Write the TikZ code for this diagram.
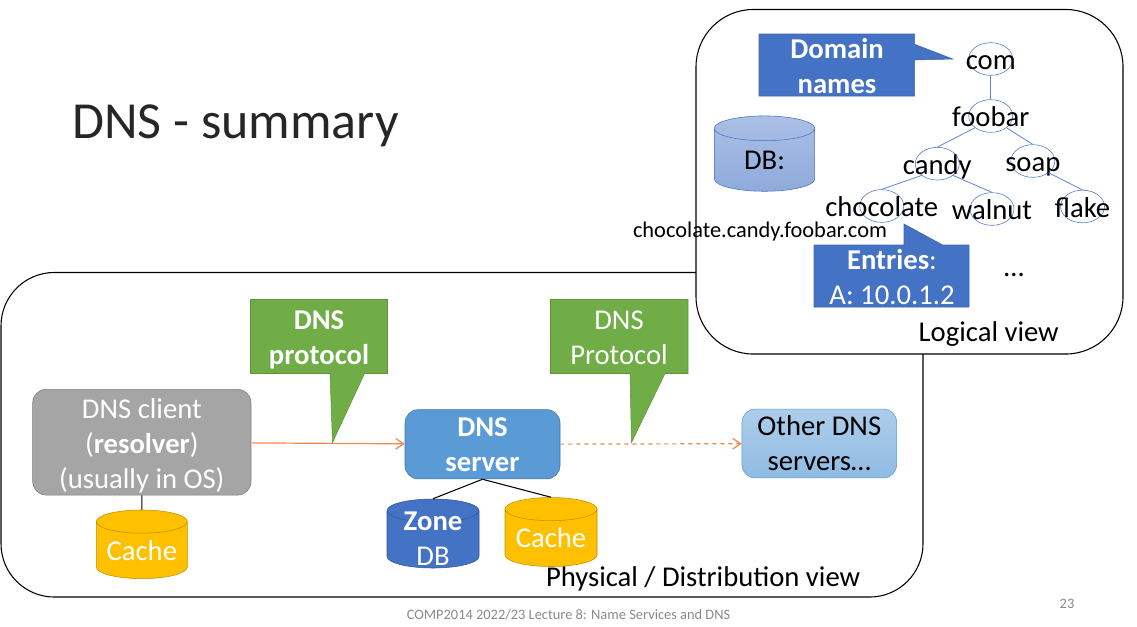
\documentclass[tikz,border=0pt]{standalone}
\usepackage{fontspec}
\setmainfont{Carlito}
\usetikzlibrary{positioning}
\usetikzlibrary{shapes.geometric}
\usetikzlibrary{arrows.meta}

\definecolor{callout green}{HTML}{70AD47}
\definecolor{callout green line}{HTML}{5F9438}
\definecolor{callout blue}{HTML}{4472C4}
\definecolor{callout blue line}{HTML}{3F66AE}
\definecolor{client gray}{HTML}{A5A5A5}
\definecolor{server blue}{HTML}{5B9BD5}
\definecolor{cache yellow}{HTML}{FFC000}
\definecolor{link orange}{HTML}{F08A4B}
\definecolor{footer gray}{HTML}{898989}

% Text wider than its ellipse must not stretch it
\newcommand{\treename}[1]{\makebox[0pt]{#1}}

\tikzset{
    % Open arrow head of the protocol links
    >={Straight Barb[length=6pt,width=8pt]},
%
    % Large rounded panels holding each view
    view box/.style={draw=black, line width=.8pt, fill=white, rounded corners=#1, inner sep=0},
%
    % Text sizes
    body text/.style={font=\fontsize{21.5}{26.3}\selectfont, align=center, inner sep=0},
    white text/.style={body text, text=white},
%
    % Rounded boxes for client and servers
    host box/.style={rectangle, rounded corners=10pt, inner sep=0, white text},
%
    % Speech bubbles, drawn as one outline
    green bubble/.style={draw=callout green line, fill=callout green},
    blue bubble/.style={draw=callout blue line, fill=callout blue},
%
    % Small disk icon, the fixed text width sets how round its ends are
    disk icon/.style={
        draw, cylinder, shape border rotate=90, shape aspect=.29, inner sep=0,
        text width=60pt, anchor=shape center, white text},
%
    % Name tree: ellipse with its text laid over it
    tree node/.style={
        draw=callout blue, ellipse, inner sep=0, minimum width=33pt, minimum height=24.5pt,
        font=\fontsize{21.5}{26.3}\selectfont, text height=16.4pt, text depth=0pt},
    tree edge/.style={draw=callout blue!85, line width=.6pt},
    wire/.style={draw=black, line width=.8pt},
    link/.style={draw=link orange, line width=.9pt, ->}}

\begin{document}
\begin{tikzpicture}[x=.75pt, y=-.75pt]
\useasboundingbox (0,0) rectangle (1137,626);

% Slide title and footer
\node[font=\fontsize{39}{46}\selectfont, text=black!85, anchor=west, inner sep=0] (title) at (72,126) {DNS - summary};
\node[font=\fontsize{10.8}{12}\selectfont, text=footer gray, inner sep=0] (footer) at (568.5,615)
    {COMP2014 2022/23 Lecture 8: Name Services and DNS};
\node[font=\fontsize{10.8}{12}\selectfont, text=footer gray, inner sep=0] (page number) at (1067,604) {23};

% The physical view, partly hidden by the logical one
\node[view box=40pt, minimum width=691.5pt, minimum height=243.4pt] (physical) at (462,434.75) {};
\node[body text, anchor=east] (physical title) at (860.5,579) {Physical / Distribution view};

\node[host box, fill=client gray, draw=client gray!75!black, minimum width=163.7pt, minimum height=79.3pt]
    (client) at (141.85,442.2) {\rule{0pt}{20pt}DNS client\\(\textbf{resolver})\\(usually in OS)};
\node[host box, fill=server blue, draw=server blue!75!black, minimum width=116.25pt, minimum height=52pt]
    (server) at (482.5,444.3) {\textbf{DNS}\\\textbf{server}};
\node[host box, top color=server blue!50, bottom color=server blue!68, draw=server blue, text=black,
    minimum width=116pt, minimum height=51.7pt]
    (other servers) at (819.3,443.5) {Other DNS\\servers…};

\node[disk icon, fill=cache yellow, draw=cache yellow!75!black, minimum width=68.25pt, minimum height=51.5pt]
    (client cache) at (141.8,544.3) {Cache};
\node[disk icon, fill=callout blue, draw=callout blue!75!black, minimum width=69pt, minimum height=51.75pt]
    (zone db) at (433,533.5) {};
\node[white text] (zone text) at (433,539) {\textbf{Zone}\\DB};
\node[disk icon, fill=cache yellow, draw=cache yellow!75!black, minimum width=69pt, minimum height=51.75pt]
    (server cache) at (551,532) {Cache};

\draw[wire] (client) -- (client cache);
\draw[wire] (server.south) -- (zone db.north);
\draw[wire] (server.south) -- (server cache.north);

\draw[link] (client) -- (server);
\draw[link, dashed] (server) -- (other servers);

% Protocol bubbles pointing at the links
\draw[green bubble] (250.5,299.5) -- (387.5,299.5) -- (387.5,373.5) -- (364.5,373.5)
    -- (332.5,442.5) -- (330,373.5) -- (250.5,373.5) -- cycle;
\node[white text] (protocol a) at (319,340) {\textbf{DNS}\\\textbf{protocol}};
\draw[green bubble] (550.5,299.5) -- (688,299.5) -- (688,373.5) -- (665,373.5)
    -- (631.5,442.5) -- (630,373.5) -- (550.5,373.5) -- cycle;
\node[white text] (protocol b) at (619,338) {DNS\\Protocol};

% The logical view on top
\node[view box=43pt, minimum width=320.25pt, minimum height=258.4pt] (logical) at (909.5,181.75) {};
\node[body text, anchor=east] (logical title) at (1059,334) {Logical view};

\node[disk icon, shape aspect=.31, text=black, draw=callout blue, top color=callout blue!45, bottom color=callout blue!60,
    minimum width=75.3pt, minimum height=56.5pt] (db) at (764.5,153.6) {DB:};

% Name tree
\node[tree node] (com) at (990.7,59) {\treename{com}};
\node[tree node] (foobar) at (990.7,116) {\treename{foobar}};
\node[tree node] (candy) at (937.3,163.7) {\treename{candy}};
\node[tree node] (soap) at (1032.8,161) {\treename{soap}};
\node[tree node] (chocolate) at (881.7,206) {\treename{chocolate}};
\node[tree node] (walnut) at (992,209) {\treename{walnut}};
\node[tree node] (flake) at (1082.5,206.5) {\treename{flake}};

\draw[tree edge] (com) -- (foobar);
\draw[tree edge] (foobar.south west) -- (candy.north);
\draw[tree edge] (foobar.south east) -- (soap.north);
\draw[tree edge] (candy.south west) -- (chocolate.north);
\draw[tree edge] (candy.south east) -- (walnut.north);
\draw[tree edge] (soap.south east) -- (flake.north);

% Blue bubbles
\draw[blue bubble] (759,34) -- (914.7,34) -- (914.7,44.3) -- (952.7,59) -- (914.7,60)
    -- (914.7,96) -- (759,96) -- cycle;
\node[white text] (domain names) at (837,66) {\textbf{Domain}\\\textbf{names}};
\draw[blue bubble] (814,245) -- (904,245) -- (904,224) -- (942.7,245) -- (969,245)
    -- (969,307) -- (814,307) -- cycle;
\node[white text] (entries) at (892,277) {\textbf{Entries}:\\A: 10.0.1.2};

\node[font=\fontsize{16.8}{19}\selectfont, inner sep=0] (full name) at (760,231.5) {chocolate.candy.foobar.com};
\node[body text] (more entries) at (1014,275) {…};

\end{tikzpicture}
\end{document}
